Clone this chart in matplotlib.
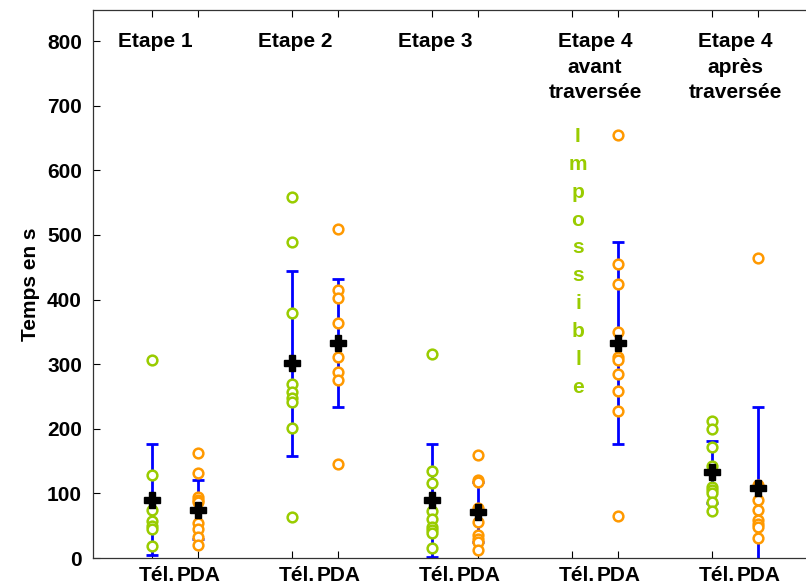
import numpy as np
import matplotlib
matplotlib.use("Agg")
import matplotlib.pyplot as plt
import matplotlib.transforms as mtransforms

plt.rcParams['font.family'] = ['Liberation Sans', 'DejaVu Sans']
plt.rcParams['font.weight'] = 'bold'

# Stages and devices
stages = ["Etape 1", "Etape 2", "Etape 3", "Etape 4\navant\ntraversée", "Etape 4\naprès\ntraversée"]
devices = ["Tél.", "PDA"]

# Individual completion times (s) per stage, telephone
tel_times = [
    [307, 128, 74, 57, 50, 45, 18],
    [558, 489, 379, 270, 257, 248, 242, 201, 63],
    [315, 135, 116, 72, 61, 48, 43, 38, 15],
    [],
    [212, 200, 172, 143, 110, 105, 100, 87, 73],
]
# Individual completion times (s) per stage, PDA
pda_times = [
    [163, 131, 95, 90, 86, 54, 45, 33, 20],
    [509, 415, 402, 363, 311, 288, 275, 145],
    [159, 121, 117, 77, 55, 35, 30, 25, 12],
    [654, 455, 424, 350, 311, 306, 285, 259, 228, 65],
    [464, 113, 90, 74, 59, 52, 48, 31],
]
# Means and standard deviations
tel_mean = [90, 301, 89, np.nan, 133]
tel_sd = [86, 143, 87, np.nan, 48]
pda_mean = [75, 332, 71, 333, 108]
pda_sd = [46, 99, 47, 156, 126]

impossible_word = "Impossible"

green = "#99cc00"
orange = "#ff9900"
blue = "#0000ff"

fig = plt.figure(figsize=(8.06, 5.87), dpi=100)
ax = fig.add_axes([93 / 806, 29 / 587, 1 - 93 / 806, 548 / 587])

off = 0.162
centers = np.arange(len(stages))
x_tel = centers - off
x_pda = centers + off

for g in range(len(stages)):
    for xs, times, col, m, s in ((x_tel[g], tel_times[g], green, tel_mean[g], tel_sd[g]),
                                 (x_pda[g], pda_times[g], orange, pda_mean[g], pda_sd[g])):
        if not np.isnan(m):
            ax.errorbar([xs], [m], yerr=[s], fmt='none', ecolor=blue, elinewidth=2.0,
                        capsize=4, capthick=2.0, zorder=2)
        if len(times):
            ax.plot(np.full(len(times), xs), times, 'o', mfc='white', mec=col,
                    mew=1.8, ms=7, ls='none', zorder=3)
        if not np.isnan(m):
            ax.plot([xs], [m], 'P', color='black', ms=11, zorder=4)

# Stage titles
title_x = [x_tel[0] + 0.02, x_tel[1] + 0.02, x_tel[2] + 0.02, centers[3], centers[4]]
for tx, name in zip(title_x, stages):
    ax.text(tx, 814, name, ha='center', va='top', fontsize=15, fontweight='bold',
            linespacing=1.45)

# Vertical "Impossible" in place of the missing telephone data
step = 43.2
for i, ch in enumerate(impossible_word):
    ax.text(x_tel[3] + 0.04, 644 - i * step, ch, ha='center', va='baseline',
            fontsize=15, fontweight='bold', color=green)

ax.set_xlim(-0.586, 4.507)
ax.set_ylim(0, 848)
ax.set_yticks(np.arange(0, 801, 100))
xt = np.ravel(np.column_stack([x_tel, x_pda]))
ax.set_xticks(xt)
ax.set_xticklabels(devices * len(stages))
ax.tick_params(axis='both', direction='in', length=5, width=0.8, labelsize=15,
               top=True, right=False)
ax.tick_params(axis='x', pad=6)
ax.tick_params(axis='y', pad=8)
for lab in ax.get_xticklabels() + ax.get_yticklabels():
    lab.set_fontweight('bold')
# "Tél." and "PDA" sit side by side under each stage
for i, lab in enumerate(ax.get_xticklabels()):
    dx = 4 / 100 if i % 2 == 0 else 1 / 100
    lab.set_transform(lab.get_transform() + mtransforms.ScaledTranslation(dx, 0, fig.dpi_scale_trans))
ax.spines['right'].set_visible(False)
for sp in ('left', 'bottom', 'top'):
    ax.spines[sp].set_linewidth(0.9)
    ax.spines[sp].set_color('#333333')
ax.set_ylabel("Temps en s", fontsize=15, fontweight='bold', labelpad=5)

fig.savefig("out.png", dpi=100)
